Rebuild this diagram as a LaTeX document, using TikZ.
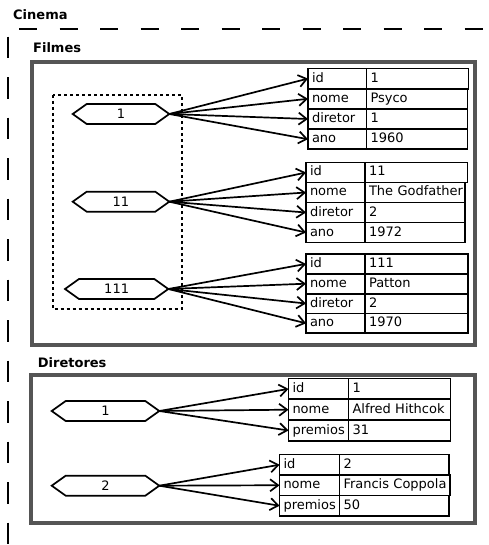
\documentclass[tikz,border=0pt]{standalone}
\usepackage{fontspec}
\setmainfont{DejaVu Sans}
\usetikzlibrary{arrows.meta}
\definecolor{boxgray}{RGB}{85,85,85}
\tikzset{
  title/.style={font=\bfseries\fontsize{13}{15}\selectfont, anchor=west, inner sep=0pt},
  cell/.style={draw, line width=1.8pt, outer sep=0pt, inner xsep=4pt, inner ysep=0pt,
    text height=10pt, text depth=3pt, align=left, anchor=north west},
  hexline/.style={line width=1.7pt, line join=miter},
  link/.style={line width=1.7pt, -{Straight Barb[length=8pt,width=12pt]}},
  group/.style={draw=boxgray, line width=4pt},
  cinemaline/.style={line width=2pt},
  keyset/.style={draw, line width=1.6pt, dash pattern=on 3pt off 3pt},
}
% name, x, y, key text width, value text width, row height, key, value
\newcommand{\fieldrow}[8]{%
  \node[cell, text width=#4, minimum height=#6] (#1) at (#2,#3) {#7};
  \node[cell, text width=#5, minimum height=#6] (#1v) at (#1.north east) {\mbox{#8}};
}
% name, left x, right x, centre y, text
\newcommand{\hexkey}[5]{%
  \draw[hexline] (#2,#4) -- (#2+14,#4-10) -- (#3-14,#4-10) -- (#3,#4)
     -- (#3-14,#4+10) -- (#2+14,#4+10) -- cycle;
  \node[inner sep=0pt] (#1) at ({(#2+#3)/2},#4) {#5};
  \coordinate (#1tip) at (#3,#4);
}
\begin{document}
\begin{tikzpicture}[x=1pt,y=-1pt,font=\fontsize{13}{15}\selectfont]
\useasboundingbox (0,0) rectangle (488,545);

% Cinema
\node[title] (cinema) at (13,15) {Cinema};
\coordinate (topA) at (19,29.3);
\coordinate (topB) at (488,29.3);
\coordinate (leftA) at (8,36.7);
\coordinate (leftB) at (8,545);
\draw[cinemaline, dash pattern=on 18pt off 22.5pt] (topA) -- (topB);
\draw[cinemaline, dash pattern=on 21.5pt off 19pt] (leftA) -- (leftB);

% Filmes
\node[title] (filmes) at (33,48) {Filmes};
\draw[group] (31.5,62) rectangle (475.3,344.5);
\draw[keyset] (52.7,95) rectangle (181.7,309);

\hexkey{h1}{72.7}{169.3}{114}{1}
\hexkey{h11}{72.7}{169.3}{201.7}{11}
\hexkey{h111}{65}{168.3}{289}{111}

\fieldrow{f1a}{308}{68.5}{50.5pt}{94pt}{20.2pt}{id}{1}
\fieldrow{f1b}{308}{88.7}{50.5pt}{93pt}{20.2pt}{nome}{Psyco}
\fieldrow{f1c}{308}{108.9}{50.5pt}{93pt}{20.2pt}{diretor}{1}
\fieldrow{f1d}{308}{129.1}{50.5pt}{93pt}{20.2pt}{ano}{1960}

\fieldrow{f2a}{306}{162.5}{51pt}{94.5pt}{20pt}{id}{11}
\fieldrow{f2b}{306}{182.5}{51pt}{92pt}{20pt}{nome}{The Godfather}
\fieldrow{f2c}{306}{202.5}{51pt}{92pt}{20pt}{diretor}{2}
\fieldrow{f2d}{306}{222.5}{51pt}{92pt}{20pt}{ano}{1972}

\fieldrow{f3a}{306}{254}{51pt}{95pt}{19.8pt}{id}{111}
\fieldrow{f3b}{306}{273.8}{51pt}{95pt}{19.8pt}{nome}{Patton}
\fieldrow{f3c}{306}{293.6}{51pt}{95pt}{19.8pt}{diretor}{2}
\fieldrow{f3d}{306}{313.4}{51pt}{95pt}{19.8pt}{ano}{1970}

\foreach \r in {a,b,c,d} {
  \draw[link] (h1tip) -- (f1\r.west);
  \draw[link] (h11tip) -- (f2\r.west);
  \draw[link] (h111tip) -- (f3\r.west);
}

% Diretores
\node[title] (diretores) at (37.7,362.7) {Diretores};
\draw[group] (30.5,374.5) rectangle (475.3,522.5);

\hexkey{d1}{51.7}{159.3}{411}{1}
\hexkey{d2}{51.7}{159.3}{485.7}{2}

\fieldrow{g1a}{288.5}{378.5}{52pt}{94pt}{20.8pt}{id}{1}
\fieldrow{g1b}{288.5}{399.3}{52pt}{94pt}{20.8pt}{nome}{Alfred Hithcok}
\fieldrow{g1c}{288.5}{420.1}{52pt}{94pt}{20.8pt}{premios}{31}

\fieldrow{g2a}{279.5}{454.5}{52pt}{101.5pt}{20.5pt}{id}{2}
\fieldrow{g2b}{279.5}{475}{52pt}{102.5pt}{20.5pt}{nome}{Francis Coppola}
\fieldrow{g2c}{279.5}{495.5}{52pt}{101.5pt}{20.5pt}{premios}{50}

\foreach \r in {a,b,c} {
  \draw[link] (d1tip) -- (g1\r.west);
  \draw[link] (d2tip) -- (g2\r.west);
}
\end{tikzpicture}
\end{document}
